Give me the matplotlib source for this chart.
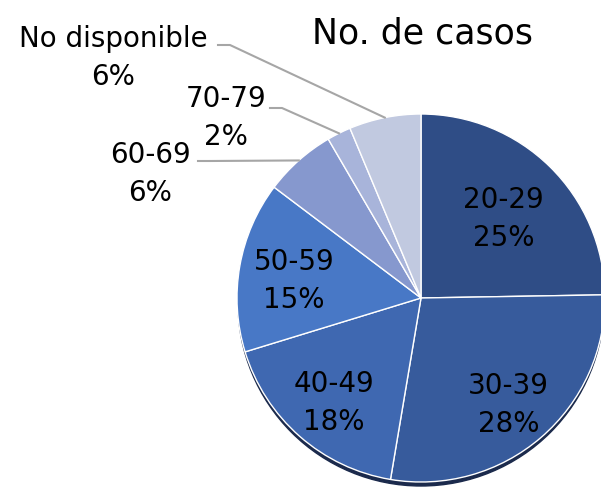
import numpy as np
import matplotlib
matplotlib.use("Agg")
import matplotlib.pyplot as plt
from matplotlib.patches import Circle

plt.rcParams['font.family'] = ['DejaVu Sans']

# data
grupos = ['20-29', '30-39', '40-49', '50-59', '60-69', '70-79', 'No disponible']
casos = [24.7, 27.9, 17.6, 15.0, 6.3, 2.1, 6.3]
colores = ['#2F4D86', '#375B9C', '#3F68B1', '#4878C6', '#8698CE', '#A8B4DA', '#C1C9E0']
titulo = 'No. de casos'

W, H = 601, 487
fig = plt.figure(figsize=(W / 100, H / 100), dpi=100)
ax = fig.add_axes([0, 0, 1, 1])

cx, cy, r = 421, H - 298, 184

# soft shadow underneath
ax.add_patch(Circle((cx, cy - 5), r - 1, color='#1B2A4C', zorder=0))

wedges, _ = ax.pie(casos, colors=colores, startangle=90, counterclock=False,
                   center=(cx, cy), radius=r, frame=True,
                   wedgeprops=dict(edgecolor='white', linewidth=1.0))
ax.set_xlim(0, W)
ax.set_ylim(0, H)
ax.set_aspect('equal')
ax.axis('off')

total = sum(casos)
fs = 20
ls = 1.45

# inside labels for the large slices
dist = [0.64, 0.73, 0.72, 0.70]
for w, g, v, d in zip(wedges[:4], grupos[:4], casos[:4], dist):
    ang = np.deg2rad((w.theta1 + w.theta2) / 2)
    ax.text(cx + d * r * np.cos(ang), cy + d * r * np.sin(ang) - 5,
            f'{g}\n{v / total * 100:.0f}%', ha='center', va='center',
            fontsize=fs, color='black', linespacing=ls)

# outside labels with leader lines
out_pos = {4: (150, H - 174), 5: (226, H - 118), 6: (113, H - 58)}
elbow = {4: (198, H - 161), 5: (270, H - 108), 6: (218, H - 45)}
for i, (tx, ty) in out_pos.items():
    w = wedges[i]
    ang = np.deg2rad((w.theta1 + w.theta2) / 2)
    ex, ey = cx + r * np.cos(ang), cy + r * np.sin(ang)
    bx, by = elbow[i]
    ax.plot([bx, bx + 12, ex], [by, by, ey], color='#A6A6A6', lw=1.5, zorder=1)
    ax.text(tx, ty, f'{grupos[i]}\n{casos[i] / total * 100:.0f}%',
            ha='center', va='center', fontsize=fs, color='black', linespacing=ls)

ax.text(422, H - 33, titulo, ha='center', va='center', fontsize=25, color='black')

fig.savefig('out.png', dpi=100)
